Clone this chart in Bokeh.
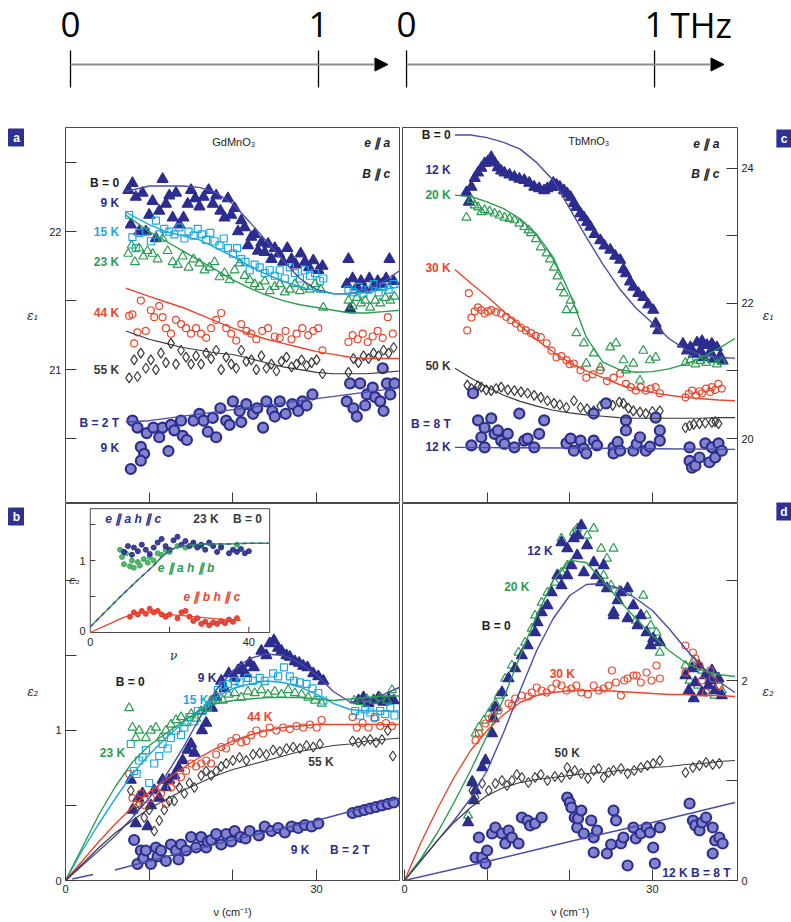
from bokeh.plotting import figure
from bokeh.layouts import row, column
from bokeh.models import Range1d, FixedTicker, Label, Arrow, NormalHead
from bokeh.core.properties import value
from bokeh.embed import file_html
from bokeh.resources import INLINE

# ---------------- frequency scale bars (THz) ----------------
thz_ticks = [0, 1]
thz_tick_labels = ["0", "1"]
thz_arrow_end = 1.28
thz_bar_origins = [0.0, 1.355]   # left bar and right bar, in THz units of the strip

# ---------------- (a) GdMnO3, eps1 ----------------
a_9K = [(7.5,22.30),(7.8,22.05),(8.0,22.35),(8.4,22.25),(8.8,22.0),(9.2,22.28),(9.6,22.0),(10.0,22.12),
        (10.4,22.22),(10.8,21.95),(11.2,22.15),(11.6,22.38),(12.0,22.2),(12.4,22.26),(12.8,22.1),(13.2,22.28),
        (13.6,22.05),(14.1,22.1),(14.6,22.2),(15.0,22.3),(15.5,22.24),(16.0,22.18),(16.5,22.25),(17.1,22.3),
        (17.6,22.2),(18.0,22.26),(18.5,22.15),(19.0,22.1),(19.4,22.24),(19.8,22.12),(20.2,22.17),(20.6,22.0),
        (21.0,22.08),(21.4,22.03),(21.8,21.9),(22.2,21.96),(22.6,21.98),(23.0,21.86),(23.4,21.92),(23.8,21.85),
        (24.2,21.91),(24.6,21.8),(25.0,21.88),(25.5,21.84),(26.0,21.78),(26.5,21.88),(27.0,21.8),(27.5,21.76),
        (28.1,21.84),(28.6,21.78),(29.1,21.74),(29.6,21.79),(30.2,21.72),(30.7,21.75),
        (33.6,21.62),(33.8,21.8),(34.0,21.44),(34.3,21.66),(34.8,21.6),(35.3,21.64),(35.8,21.58),(36.3,21.66),
        (36.8,21.6),(37.3,21.64),(37.8,21.62),(38.3,21.66),(38.7,21.8),(39.2,21.64)]
a_15K = [(7.6,22.12),(8.0,21.96),(8.4,21.88),(8.8,21.99),(9.6,22.0),(10.2,21.93),(10.8,22.08),(11.2,21.98),
         (11.8,22.02),(12.4,22.0),(13.0,21.98),(13.6,22.03),(14.2,21.95),(14.7,22.0),(15.3,21.97),(15.8,22.02),
         (16.3,21.98),(16.8,21.94),(17.3,21.99),(17.8,21.93),(18.4,21.9),(18.9,21.95),(19.4,21.88),(20.0,21.84),
         (20.5,21.88),(21.0,21.8),(21.5,21.78),(22.0,21.72),(22.6,21.76),(23.2,21.74),(23.8,21.7),(24.4,21.72),
         (25.0,21.68),(25.6,21.72),(26.2,21.66),(26.8,21.74),(27.4,21.7),(28.0,21.66),(28.6,21.72),(29.2,21.68),
         (29.8,21.7),(30.4,21.64),(30.8,21.66),
         (33.8,21.58),(34.4,21.56),(35.0,21.6),(35.6,21.55),(36.2,21.58),(36.8,21.62),(37.4,21.56),(38.0,21.6),
         (38.6,21.58),(39.2,21.62)]
a_23K = [(7.5,21.84),(7.9,21.9),(8.3,21.78),(8.8,21.88),(9.3,21.82),(9.8,21.86),(10.4,21.84),(11.0,21.8),
         (11.6,21.95),(12.2,21.86),(12.8,21.78),(13.4,21.76),(14.0,21.82),(14.7,21.74),(15.3,21.8),(16.0,21.77),
         (16.6,21.72),(17.2,21.74),(17.8,21.78),(18.4,21.67),(19.0,21.7),(19.6,21.65),(20.2,21.72),(20.8,21.77),
         (21.4,21.68),(22.0,21.65),(22.6,21.62),(23.2,21.6),(23.8,21.64),(24.4,21.57),(25.0,21.6),(25.6,21.62),
         (26.2,21.56),(26.8,21.58),(27.4,21.62),(28.0,21.57),(28.6,21.6),(29.2,21.58),(29.8,21.62),(30.5,21.58),
         (30.8,21.45),
         (33.8,21.5),(34.3,21.46),(34.8,21.52),(35.3,21.48),(35.8,21.5),(36.4,21.45),(37.0,21.5),(37.6,21.48),
         (38.2,21.52),(38.8,21.5),(39.3,21.53)]
a_44K = [(7.6,21.39),(8.0,21.4),(8.2,21.19),(8.6,21.27),(9.0,21.5),(9.6,21.28),(10.2,21.43),(10.6,21.38),
         (11.2,21.46),(11.6,21.38),(12.0,21.3),(12.6,21.26),(13.2,21.36),(13.8,21.33),(14.4,21.3),(15.0,21.26),
         (15.6,21.3),(16.2,21.26),(16.8,21.23),(17.4,21.3),(18.0,21.36),(18.6,21.41),(19.2,21.3),(19.8,21.26),
         (20.4,21.21),(21.0,21.33),(21.6,21.28),(22.2,21.26),(22.8,21.22),(23.5,21.28),(24.2,21.3),(25.0,21.24),
         (25.6,21.23),(26.3,21.28),(27.0,21.22),(27.6,21.26),(28.3,21.3),(29.0,21.25),(29.6,21.28),(30.2,21.3),
         (30.7,21.14),
         (33.8,21.2),(34.3,21.25),(34.9,21.22),(35.5,21.26),(36.1,21.2),(36.7,21.24),(37.3,21.28),(37.9,21.23),
         (38.5,21.38),(39.1,21.26)]
a_55K = [(7.6,20.94),(8.2,21.07),(8.6,20.95),(9.0,21.12),(9.6,21.01),(10.2,21.07),(10.8,21.0),(11.4,21.12),
         (12.0,21.05),(12.6,21.19),(13.2,21.04),(13.8,21.14),(14.4,21.09),(15.0,21.04),(15.6,21.1),(16.2,21.04),
         (16.8,21.12),(17.4,21.08),(18.0,21.14),(18.6,21.0),(19.2,21.09),(19.8,21.04),(20.4,21.01),(21.0,21.14),
         (21.6,21.06),(22.2,21.07),(22.8,21.0),(23.4,21.1),(24.0,21.01),(24.6,21.04),(25.2,20.99),(25.8,21.06),
         (26.4,21.09),(27.0,21.02),(27.6,21.04),(28.2,21.07),(28.8,21.03),(29.4,21.05),(30.0,21.07),(30.7,20.97),
         (33.8,20.98),(34.4,21.08),(35.0,21.05),(35.6,21.1),(36.2,21.08),(36.8,21.12),(37.4,21.1),(38.0,21.14),
         (38.6,21.12),(39.2,21.16)]
a_2T = [(7.8,20.28),(8.0,20.63),(8.6,20.58),(9.0,20.44),(9.4,20.39),(9.0,20.34),(9.7,20.54),(10.5,20.58),
        (11.2,20.51),(11.6,20.58),(12.3,20.41),(12.6,20.6),(13.0,20.56),(13.8,20.63),(14.0,20.52),(14.5,20.49),
        (15.3,20.63),(16.0,20.68),(16.5,20.63),(17.0,20.55),(17.6,20.65),(18.0,20.51),(18.5,20.72),(19.2,20.63),
        (19.6,20.6),(20.0,20.77),(20.8,20.7),(21.0,20.62),(21.6,20.75),(22.4,20.68),(22.9,20.72),(23.6,20.58),
        (24.0,20.77),(24.7,20.7),(25.0,20.66),(25.6,20.77),(26.3,20.68),(27.1,20.75),(27.8,20.7),(28.3,20.77),
        (28.8,20.74),(29.5,20.82),
        (33.6,20.77),(34.0,20.9),(34.4,20.72),(34.8,20.66),(35.2,20.9),(35.8,20.74),(36.0,20.82),(36.7,20.87),
        (37.0,20.8),(37.6,20.77),(37.9,21.01),(38.0,20.7),(38.4,20.9),(38.8,20.82),(39.3,20.9)]
a_fit_v = [7.2, 10, 12, 14, 16, 18, 20, 22, 24, 26, 28, 30, 32, 34, 36, 38, 40]
a_fit_9K = [22.29, 22.33, 22.33, 22.33, 22.32, 22.28, 22.2, 22.07, 21.93, 21.79, 21.66, 21.58, 21.55, 21.55, 21.58, 21.64, 21.72]
a_fit_15K = [22.14, 22.05, 22.0, 21.97, 21.94, 21.88, 21.82, 21.75, 21.69, 21.64, 21.6, 21.57, 21.55, 21.55, 21.56, 21.58, 21.6]
a_fit_23K = [22.12, 22.0, 21.93, 21.86, 21.79, 21.72, 21.65, 21.59, 21.54, 21.5, 21.47, 21.45, 21.43, 21.41, 21.41, 21.42, 21.43]
a_fit_44K = [21.59, 21.53, 21.49, 21.45, 21.4, 21.35, 21.3, 21.26, 21.22, 21.19, 21.16, 21.13, 21.11, 21.09, 21.08, 21.08, 21.08]
a_fit_55K = [21.28, 21.22, 21.19, 21.16, 21.14, 21.12, 21.11, 21.08, 21.05, 21.02, 21.0, 20.98, 20.97, 20.97, 20.97, 20.98, 20.99]
a_fit_2T_v = [7.2, 10, 15, 20, 25, 30, 35, 40]
a_fit_2T = [20.62, 20.63, 20.67, 20.71, 20.75, 20.79, 20.83, 20.87]

# ---------------- (b) GdMnO3, eps2 ----------------
b_9K = [(7.8,0.67),(8.0,0.47),(8.4,0.38),(8.7,0.55),(9.2,0.58),(9.8,0.36),(10.2,0.5),(10.6,0.6),(11.2,0.55),
        (11.6,0.67),(12.0,0.62),(12.4,0.67),(13.0,0.7),(13.5,0.75),(14.0,0.8),(14.6,0.87),(15.0,0.91),(15.4,0.85),
        (16.3,1.0),(16.8,1.05),(17.5,1.15),(18.0,1.22),(18.6,1.33),(19.0,1.28),(19.5,1.38),(20.2,1.35),(20.6,1.4),
        (21.0,1.42),(21.5,1.38),(22.0,1.45),(22.5,1.42),(23.4,1.53),(24.0,1.5),(24.4,1.58),(24.9,1.6),(25.4,1.55),
        (25.8,1.53),(26.4,1.5),(26.8,1.49),(27.4,1.46),(27.9,1.45),(28.4,1.43),(28.9,1.42),(29.6,1.38),(30.2,1.36),
        (30.8,1.33),
        (35.0,1.2),(35.6,1.22),(36.2,1.18),(36.8,1.2),(37.4,1.22),(38.0,1.19),(38.6,1.21),(39.2,1.2)]
b_15K = [(7.8,0.91),(8.2,0.73),(8.5,0.71),(8.8,0.8),(9.2,0.82),(9.6,0.87),(10.0,0.65),(10.6,0.78),(11.2,0.83),
         (11.6,0.91),(12.2,0.88),(12.6,0.95),(13.2,1.0),(13.8,0.97),(14.2,1.02),(14.8,1.09),(15.4,1.06),(15.8,1.13),
         (16.4,1.13),(17.0,1.15),(17.6,1.2),(18.2,1.27),(18.8,1.3),(19.4,1.31),(20.2,1.33),(20.8,1.32),(21.8,1.35),
         (22.4,1.33),(23.2,1.35),(23.8,1.33),(24.8,1.38),(25.4,1.36),(26.1,1.42),(26.8,1.36),(27.3,1.33),(28.0,1.32),
         (28.8,1.31),(29.5,1.28),(30.2,1.25),(30.8,1.2),
         (34.6,1.13),(35.2,1.1),(35.8,1.14),(36.4,1.12),(37.0,1.09),(37.6,1.13),(38.2,1.11),(38.8,1.15),(39.3,1.1)]
b_23K = [(7.6,1.15),(8.0,1.02),(8.4,0.95),(8.8,1.0),(9.6,0.95),(10.2,1.0),(10.8,1.02),(11.4,0.95),(12.0,1.0),
         (12.6,1.04),(13.2,1.07),(13.8,1.09),(14.4,1.05),(15.0,1.11),(15.6,1.08),(16.2,1.13),(16.8,1.15),(17.4,1.2),
         (18.0,1.22),(18.8,1.2),(19.5,1.24),(20.2,1.25),(21.0,1.22),(21.8,1.26),(22.6,1.25),(23.4,1.27),(24.2,1.24),
         (25.0,1.26),(25.8,1.24),(26.6,1.27),(27.4,1.25),(28.2,1.24),(29.0,1.22),(29.8,1.2),(30.6,1.18),
         (34.5,1.2),(35.2,1.19),(36.0,1.21),(36.8,1.2),(37.6,1.22),(38.4,1.2),(39.0,1.27)]
b_44K = [(7.6,0.71),(8.0,0.55),(8.5,0.51),(9.0,0.58),(9.5,0.5),(10.2,0.55),(10.8,0.6),(11.4,0.58),(12.0,0.51),
         (12.6,0.62),(13.2,0.65),(13.8,0.69),(14.4,0.73),(15.0,0.78),(15.6,0.76),(16.2,0.78),(16.8,0.8),(17.4,0.78),
         (18.0,0.84),(18.6,0.89),(19.2,0.88),(19.8,0.93),(20.4,0.95),(21.0,0.92),(21.6,0.93),(22.2,0.97),(22.8,1.0),
         (23.6,0.98),(24.4,1.02),(25.2,1.0),(26.0,1.02),(26.8,1.01),(27.6,1.03),(28.4,1.02),(29.2,1.04),(30.0,1.02),
         (30.6,1.07),
         (34.3,1.09),(34.8,1.02),(35.5,1.05),(36.2,1.02),(36.9,1.08),(37.6,1.03),(38.3,1.05),(39.0,1.03)]
b_55K = [(7.8,0.6),(8.2,0.47),(8.8,0.51),(9.4,0.42),(10.0,0.47),(10.6,0.33),(11.2,0.4),(11.8,0.47),(12.4,0.53),
         (13.0,0.53),(13.6,0.62),(14.2,0.58),(14.8,0.65),(15.4,0.62),(16.2,0.7),(16.8,0.73),(17.4,0.7),(18.0,0.73),
         (18.6,0.76),(19.2,0.78),(20.0,0.8),(20.8,0.82),(21.6,0.8),(22.4,0.84),(23.2,0.85),(24.0,0.84),(24.8,0.87),
         (25.6,0.86),(26.4,0.88),(27.2,0.89),(28.0,0.88),(28.8,0.9),(29.6,0.89),(30.4,0.91),
         (34.3,0.93),(35.0,0.92),(35.7,0.93),(36.4,0.94),(37.1,0.92),(37.8,0.94),(38.5,1.0),(39.1,0.83)]
b_2T = [(8.2,0.27),(8.6,0.11),(9.0,0.2),(9.3,0.15),(9.6,0.2),(10.2,0.11),(10.8,0.22),(11.0,0.16),(11.4,0.2),
        (12.0,0.13),(12.6,0.24),(13.2,0.2),(13.5,0.14),(13.8,0.24),(14.4,0.2),(15.0,0.29),(15.6,0.22),(16.2,0.29),
        (16.8,0.22),(17.0,0.26),(17.4,0.27),(18.0,0.31),(18.6,0.24),(19.2,0.31),(19.8,0.26),(20.2,0.33),(20.9,0.29),
        (21.5,0.28),(22.0,0.33),(23.1,0.3),(23.8,0.36),(24.6,0.33),(25.4,0.35),(26.2,0.32),(27.0,0.36),(27.8,0.35),
        (28.6,0.37),(29.4,0.36),(30.2,0.38),
        (34.3,0.45),(35.0,0.46),(35.7,0.47),(36.4,0.48),(37.1,0.49),(37.8,0.5),(38.5,0.51),(39.2,0.52)]
b_fit_v = [0, 2, 4, 6, 8, 10, 12, 14, 16, 18, 20, 22, 24, 26, 28, 30, 32, 34, 36, 38, 40]
b_fit_9K = [0, 0.1, 0.2, 0.3, 0.42, 0.55, 0.7, 0.88, 1.08, 1.27, 1.4, 1.48, 1.51, 1.5, 1.45, 1.37, 1.26, 1.19, 1.2, 1.24, 1.29]
b_fit_15K = [0, 0.2, 0.38, 0.55, 0.71, 0.84, 0.95, 1.05, 1.14, 1.22, 1.28, 1.31, 1.33, 1.32, 1.29, 1.24, 1.18, 1.14, 1.13, 1.13, 1.13]
b_fit_23K = [0, 0.22, 0.44, 0.63, 0.79, 0.9, 0.98, 1.06, 1.13, 1.18, 1.2, 1.21, 1.22, 1.22, 1.22, 1.21, 1.2, 1.21, 1.22, 1.23, 1.23]
b_fit_44K = [0, 0.13, 0.26, 0.38, 0.49, 0.59, 0.67, 0.75, 0.82, 0.88, 0.93, 0.97, 1.0, 1.02, 1.03, 1.04, 1.04, 1.04, 1.04, 1.04, 1.04]
b_fit_55K = [0, 0.11, 0.22, 0.32, 0.4, 0.48, 0.54, 0.6, 0.65, 0.7, 0.74, 0.77, 0.8, 0.83, 0.86, 0.88, 0.9, 0.91, 0.93, 0.94, 0.95]
# the 2 T fit is drawn in two pieces (short stub near the origin, then the main run)
b_fit_2T_v = [0.8, 3.3, float("nan"), 5.9, 10, 20, 30, 40]
b_fit_2T = [0.01, 0.04, float("nan"), 0.07, 0.13, 0.27, 0.4, 0.55]

# inset of (b): 23 K, B = 0, three polarisations
ins_ac = [(8.5,1.12),(9.5,1.2),(10.5,1.08),(11,1.18),(12,1.13),(13,1.22),(14,1.15),(15,1.09),(16,1.18),(17,1.25),
          (18,1.3),(19,1.2),(20,1.15),(21,1.28),(22,1.33),(23,1.22),(24,1.27),(25,1.2),(26,1.25),(27,1.18),
          (28,1.22),(29,1.15),(30,1.25),(31,1.2),(32,1.12),(33,1.18),(35,1.1),(36,1.15),(37,1.12),(38,1.16),
          (39,1.1),(40,1.13)]
ins_ab = [(7.5,1.15),(8,1.05),(8.5,0.95),(9,1.1),(10,0.92),(10.5,1.0),(11,0.9),(12,0.98),(12.5,0.93),(13.5,1.02),
          (14.5,0.97),(15,1.05),(16,1.0),(17,1.1),(18,1.08),(19,1.15),(20,1.12),(22,1.2),(24,1.18),(26,1.22),
          (28,1.2),(30,1.24),(33,1.2),(37,1.22)]
ins_bc = [(10,0.22),(11,0.28),(12,0.25),(13,0.3),(14,0.26),(15,0.33),(16,0.28),(17,0.3),(18,0.25),(19,0.22),
          (20,0.25),(22,0.2),(23,0.28),(24,0.3),(25,0.22),(26,0.16),(27,0.2),(28,0.12),(29,0.15),(30,0.1),
          (31,0.14),(32,0.12),(33,0.16),(34,0.13),(35,0.18),(36,0.15),(37,0.2)]
ins_fit_v = [0, 4, 8, 12, 16, 18, 20, 22, 26, 30, 35, 40, 45]
ins_fit_a = [0.08, 0.3, 0.52, 0.73, 0.93, 1.05, 1.14, 1.19, 1.22, 1.23, 1.23, 1.24, 1.24]
ins_fit_b_v = [0, 4, 8, 12, 16, 20, 24, 28, 32, 36, 38]
ins_fit_b = [0.0, 0.1, 0.2, 0.28, 0.28, 0.25, 0.23, 0.21, 0.19, 0.17, 0.17]

# ---------------- (c) TbMnO3, eps1 ----------------
c_12K = [(7.5,23.64),(7.8,23.5),(8.1,23.72),(8.5,23.85),(8.9,23.93),(9.3,24.0),(9.7,24.07),(10.1,24.1),(10.5,24.16),
         (10.9,24.08),(11.3,24.01),(11.7,23.96),(12.1,23.93),(12.7,23.9),(13.3,23.87),(13.9,23.84),(14.5,23.82),
         (15.1,23.78),(15.7,23.72),(16.3,23.7),(16.9,23.67),(17.3,23.7),(17.7,23.72),(18.0,23.78),(18.4,23.75),
         (18.8,23.72),(19.3,23.67),(19.7,23.62),(20.1,23.57),(20.5,23.48),(20.8,23.42),(21.3,23.33),(21.7,23.27),
         (22.1,23.2),(22.5,23.13),(23.0,23.02),(23.7,22.93),(24.2,22.85),(24.9,22.79),(25.5,22.7),(26.1,22.64),
         (26.5,22.5),(26.8,22.44),(27.3,22.32),(27.7,22.24),(28.3,22.15),(28.9,22.09),(29.5,21.98),(30.1,21.9),
         (30.4,21.7),(30.7,21.6),
         (33.7,21.4),(34.2,21.3),(34.6,21.35),(35.0,21.25),(35.4,21.42),(35.8,21.3),(36.0,21.44),(36.2,21.2),
         (36.6,21.38),(37.0,21.28),(37.2,21.4),(37.4,21.18),(37.8,21.35),(38.2,21.22),(38.5,21.15)]
c_20K = [(7.5,23.27),(8.1,23.53),(8.5,23.45),(8.9,23.42),(9.3,23.35),(9.7,23.38),(10.3,23.36),(10.9,23.33),
         (11.5,23.3),(12.1,23.27),(12.7,23.25),(13.3,23.23),(13.9,23.18),(14.5,23.13),(15.0,23.08),(15.3,23.04),
         (15.9,22.95),(16.5,22.83),(17.2,22.74),(17.6,22.65),(18.1,22.53),(18.5,22.4),(18.9,22.24),(19.3,22.15),
         (19.6,21.9),(20.1,22.04),(20.5,21.9),(20.8,21.56),(21.7,21.41),(22.0,21.11),(22.9,21.26),(23.7,21.05),
         (24.9,21.35),(25.6,21.41),(26.5,21.16),(26.8,21.01),(27.7,21.11),(28.5,20.86),(28.9,21.3),(29.7,21.16),
         (30.4,21.2),
         (34.0,21.12),(34.6,21.16),(35.2,21.1),(35.8,21.15),(36.5,21.12),(37.2,21.16),(37.8,21.1),(38.4,21.14)]
c_30K = [(7.6,21.6),(7.8,22.15),(8.1,21.79),(8.5,21.88),(8.9,21.94),(9.3,21.9),(9.7,21.85),(10.1,21.88),
         (10.5,21.9),(11.1,21.87),(11.7,21.85),(12.3,21.8),(12.9,21.75),(13.5,21.7),(14.1,21.64),(14.7,21.6),
         (15.3,21.56),(15.9,21.52),(16.5,21.5),(17.2,21.41),(17.8,21.3),(18.4,21.2),(19.0,21.22),(19.6,21.16),
         (20.0,21.1),(20.5,21.11),(21.3,21.01),(22.0,20.9),(22.8,20.95),(23.7,21.01),(24.5,20.85),(25.3,20.9),
         (26.1,20.96),(26.8,20.81),(27.4,20.76),(28.0,20.71),(28.6,20.76),(29.2,20.71),(29.8,20.74),(30.4,20.76),
         (30.9,20.67),
         (34.0,20.61),(34.4,20.66),(34.8,20.71),(35.3,20.64),(35.7,20.7),(36.0,20.67),(36.5,20.74),(37.0,20.69),
         (37.2,20.76),(37.6,20.72),(38.0,20.81),(38.4,20.74)]
c_50K = [(7.6,20.79),(8.1,20.74),(8.5,20.71),(8.9,20.78),(9.3,20.76),(9.9,20.72),(10.5,20.71),(11.1,20.74),
         (11.7,20.76),(12.5,20.72),(13.3,20.71),(14.1,20.69),(14.9,20.67),(15.7,20.64),(16.5,20.61),(17.3,20.56),
         (18.1,20.52),(18.8,20.5),(19.6,20.46),(20.5,20.56),(21.3,20.46),(22.1,20.44),(22.9,20.41),(23.7,20.48),
         (24.4,20.52),(25.2,20.49),(26.0,20.54),(26.5,20.52),(27.1,20.45),(27.7,20.41),(28.5,20.39),(29.2,20.37),
         (30.0,20.4),(30.9,20.41),
         (34.0,20.16),(34.5,20.19),(35.0,20.21),(35.7,20.22),(36.4,20.23),(37.2,20.24),(37.6,20.25),(38.0,20.22)]
c_8T = [(8.3,20.67),(8.1,19.9),(8.9,20.27),(9.3,20.02),(9.7,20.16),(9.7,19.87),(10.5,20.3),(10.9,20.07),
        (11.3,20.12),(11.7,19.97),(12.1,19.92),(12.5,20.07),(13.3,19.87),(13.9,20.37),(14.5,19.97),(14.9,20.0),
        (15.7,19.87),(16.3,20.07),(16.9,20.27),(19.6,19.93),(20.1,20.0),(20.5,19.82),(21.3,19.97),(21.7,19.85),
        (22.0,19.78),(22.9,20.37),(22.9,19.97),(23.3,19.9),(24.4,20.52),(25.3,19.87),(25.3,19.78),(25.8,19.95),
        (26.1,19.82),(26.8,20.27),(26.8,20.12),(27.7,19.82),(28.1,19.92),(28.5,20.02),(29.2,19.82),(29.7,19.88),
        (30.4,20.31),(30.9,20.12),(30.9,19.97),
        (34.5,19.87),(34.5,19.67),(34.8,19.57),(35.2,19.6),(35.7,19.72),(36.4,19.93),(36.9,19.65),(37.2,19.87),
        (37.6,19.72),(38.0,19.93),(38.4,19.82)]
c_fit_v = [6.1, 8, 10, 12, 14, 16, 18, 20, 22, 24, 26, 28, 30, 32, 34, 36, 38, 40]
c_fit_12K = [24.49, 24.49, 24.45, 24.38, 24.28, 24.08, 23.82, 23.4, 22.98, 22.58, 22.22, 21.93, 21.71, 21.48, 21.32, 21.23, 21.2, 21.19]
c_fit_20K = [23.6, 23.58, 23.5, 23.4, 23.25, 23.02, 22.68, 22.15, 21.5, 21.13, 21.02, 20.98, 20.99, 21.03, 21.1, 21.2, 21.33, 21.48]
c_fit_30K = [22.5, 22.3, 22.1, 21.88, 21.67, 21.46, 21.28, 21.12, 21.0, 20.9, 20.8, 20.73, 20.68, 20.64, 20.61, 20.59, 20.57, 20.56]
c_fit_50K = [21.04, 20.9, 20.76, 20.64, 20.55, 20.48, 20.42, 20.38, 20.35, 20.33, 20.31, 20.3, 20.3, 20.3, 20.3, 20.3, 20.31, 20.31]
c_fit_8T_v = [6.1, 20, 30, 40]
c_fit_8T = [19.87, 19.86, 19.85, 19.84]

# ---------------- (d) TbMnO3, eps2 ----------------
d_12K = [(7.7,0.58),(8.2,0.98),(8.4,0.8),(8.6,0.9),(9.4,1.13),(9.8,1.2),(10.6,1.47),(10.8,1.62),(11.0,1.73),
         (11.8,1.88),(12.6,2.02),(13.4,2.12),(14.2,2.25),(14.9,2.35),(15.8,2.48),(16.1,2.58),(16.6,2.68),(17.3,2.75),
         (17.8,2.88),(18.5,3.05),(19.0,2.95),(19.7,3.05),(19.0,3.38),(19.7,3.32),(20.2,3.15),(20.5,3.42),(20.9,3.25),
         (21.0,3.45),(21.4,3.55),(21.7,3.08),(22.1,3.35),(22.9,3.18),(23.2,3.05),(23.8,2.98),(24.1,3.15),(24.5,2.92),
         (25.3,2.68),(25.3,2.65),(25.8,2.8),(26.2,2.88),(27.0,2.92),(27.0,2.62),(27.7,2.75),(28.2,2.55),(28.6,2.65),
         (29.3,2.48),(29.8,2.35),(30.1,2.42),(30.9,2.38),
         (34.0,2.05),(34.4,1.9),(34.8,2.12),(35.0,1.82),(35.2,1.98),(35.6,2.15),(36.0,1.88),(36.4,2.05),(36.8,1.95),
         (37.0,2.0),(37.2,2.1),(37.6,1.9),(38.0,2.02),(38.4,1.85)]
d_20K = [(7.7,0.65),(8.2,1.0),(8.6,1.47),(9.0,1.53),(9.6,1.6),(10.2,1.67),(10.6,1.72),(11.0,1.77),(11.4,1.85),
         (12.2,2.02),(13.0,2.15),(13.8,2.28),(14.6,2.38),(15.4,2.52),(15.8,2.65),(16.6,2.78),(17.3,2.88),(18.2,2.98),
         (19.0,3.08),(19.7,3.15),(19.0,3.42),(20.5,3.48),(20.9,3.52),(22.1,3.45),(22.9,3.52),(23.8,3.32),(24.5,3.22),
         (25.3,3.32),(24.1,3.05),(25.0,2.95),(26.0,2.9),(27.0,2.88),(28.0,2.6),(28.9,2.85),(29.3,2.65),(29.8,2.55),
         (30.5,2.48),(30.9,2.28),
         (34.0,2.15),(34.5,2.0),(35.0,2.2),(35.5,1.95),(36.0,2.1),(36.5,1.9),(37.0,2.05),(37.5,1.85),(38.0,2.0),
         (38.4,1.9)]
d_30K = [(8.6,1.4),(9.0,1.47),(9.8,1.57),(10.6,1.63),(11.4,1.7),(12.6,1.77),(13.0,1.75),(13.4,1.82),(14.2,1.85),
         (15.0,1.84),(15.4,1.88),(16.0,1.93),(16.6,1.9),(17.2,1.88),(17.8,1.92),(18.4,1.97),(19.0,1.95),(19.6,1.9),
         (20.2,1.92),(20.8,1.95),(21.4,1.88),(22.2,1.86),(22.9,1.95),(23.5,1.9),(24.1,1.92),(24.7,1.95),(25.1,2.1),
         (25.6,1.98),(26.2,1.85),(26.6,2.0),(27.0,2.02),(27.7,2.05),(28.1,2.05),(28.6,1.98),(29.3,2.08),(29.9,2.0),
         (30.5,2.15),(30.9,2.02),
         (34.0,2.35),(34.0,2.08),(34.9,2.28),(35.2,2.22),(35.7,2.15),(36.0,2.0),(36.5,1.88),(37.0,2.1),(37.3,2.02),
         (38.1,1.95)]
d_50K = [(8.2,0.9),(8.6,0.83),(9.4,0.97),(10.2,0.9),(11.0,0.97),(11.8,1.0),(12.4,0.95),(13.0,1.0),(13.6,1.06),
         (14.2,1.03),(15.0,0.98),(15.8,1.03),(16.5,1.06),(17.3,1.0),(18.2,1.04),(19.0,1.03),(19.7,1.13),(20.0,1.06),
         (20.6,1.1),(21.4,1.07),(22.2,1.02),(22.9,1.1),(23.5,1.12),(24.1,1.03),(24.7,1.08),(25.3,1.1),(26.2,1.12),
         (27.0,1.07),(27.8,1.1),(28.6,1.13),(29.4,1.15),(30.1,1.17),(30.9,1.2),
         (34.0,1.08),(34.9,1.13),(35.7,1.15),(36.5,1.18),(37.3,1.16),(38.1,1.17)]
d_8T = [(8.6,0.23),(9.0,0.43),(9.4,0.23),(9.8,0.17),(10.0,0.3),(10.6,0.47),(11.0,0.53),(11.8,0.47),(12.2,0.37),
        (12.6,0.5),(13.0,0.43),(13.8,0.37),(14.2,0.63),(14.9,0.6),(15.2,0.55),(15.8,0.57),(16.6,0.63),(19.7,0.83),
        (20.0,0.78),(20.2,0.73),(20.6,0.63),(20.9,0.53),(21.0,0.62),(21.4,0.7),(21.7,0.47),(22.6,0.6),(22.9,0.43),
        (22.9,0.28),(23.3,0.5),(24.5,0.27),(25.0,0.36),(25.3,0.7),(25.6,0.6),(26.2,0.37),(26.5,0.43),(27.0,0.15),
        (27.7,0.53),(28.0,0.42),(28.6,0.47),(29.3,0.53),(29.7,0.48),(30.1,0.33),(30.3,0.17),(30.9,0.53),
        (34.5,0.77),(34.9,0.6),(35.2,0.55),(35.7,0.5),(36.0,0.58),(36.5,0.63),(37.3,0.53),(37.3,0.27),(37.6,0.4),
        (38.1,0.43),(38.5,0.37)]
d_fit_v = [0, 2, 4, 6, 8, 10, 12, 14, 16, 18, 20, 22, 24, 26, 28, 30, 32, 34, 36, 38, 40]
d_fit_12K = [0, 0.2, 0.4, 0.6, 0.82, 1.1, 1.48, 1.9, 2.3, 2.62, 2.85, 2.96, 2.97, 2.92, 2.82, 2.7, 2.52, 2.32, 2.13, 1.99, 1.88]
d_fit_20K = [0, 0.22, 0.48, 0.78, 1.1, 1.45, 1.82, 2.25, 2.65, 3.0, 3.2, 3.18, 3.0, 2.8, 2.62, 2.45, 2.3, 2.18, 2.1, 2.06, 2.04]
d_fit_30K = [0, 0.38, 0.72, 1.03, 1.3, 1.5, 1.66, 1.78, 1.85, 1.88, 1.9, 1.9, 1.9, 1.89, 1.88, 1.87, 1.86, 1.86, 1.85, 1.85, 1.84]
d_fit_50K = [0, 0.2, 0.4, 0.58, 0.73, 0.85, 0.93, 0.98, 1.01, 1.03, 1.05, 1.07, 1.08, 1.1, 1.11, 1.13, 1.14, 1.16, 1.17, 1.19, 1.2]
d_fit_8T_v = [0, 10, 20, 30, 40]
d_fit_8T = [0, 0.19, 0.39, 0.58, 0.78]

# ---------------- styling ----------------
NAVY = "#2c2d8f"
NAVY_LINE = "#4a4cab"
DISC_FILL = "#8183cc"
CYAN = "#1ba8e2"
GREEN = "#2a9d52"
RED = "#e9472d"
DARK = "#3a3a3a"
BOX = "#2e3192"
FRAME = "#4a4a4a"
FONT = "Liberation Sans Narrow, Liberation Sans, sans-serif"
TICK_FONT = "Liberation Sans"
SERIF = "DejaVu Serif"


def unzip(pts):
    return [q[0] for q in pts], [q[1] for q in pts]


def make_fig(width, height, xr, yr, left, right, top, bottom, y_side="left"):
    p = figure(width=width, height=height, x_range=Range1d(*xr), y_range=Range1d(*yr),
               output_backend="svg", toolbar_location=None, title=None, y_axis_location=y_side,
               min_border_left=left, min_border_right=right, min_border_top=top, min_border_bottom=bottom)
    p.outline_line_color = FRAME
    p.outline_line_width = 1
    p.background_fill_color = "white"
    p.border_fill_color = "white"
    p.xgrid.visible = False
    p.ygrid.visible = False
    return p


def style_axis(ax, major, minor, show_labels=True, standoff=4):
    ax.ticker = FixedTicker(ticks=major, minor_ticks=minor)
    ax.axis_line_color = None
    ax.major_tick_in = 11
    ax.major_tick_out = 0
    ax.minor_tick_in = 11
    ax.minor_tick_out = 0
    ax.major_tick_line_color = DARK
    ax.minor_tick_line_color = DARK
    ax.major_label_text_font = TICK_FONT
    ax.major_label_text_color = "#222222"
    ax.major_label_text_font_size = "11px" if show_labels else "0px"
    ax.major_label_standoff = standoff if show_labels else 0


def eps_label(ax, text, standoff):
    ax.axis_label = text
    ax.axis_label_text_font = SERIF
    ax.axis_label_text_font_style = "italic"
    ax.axis_label_text_font_size = "12px"
    ax.axis_label_text_color = "#222222"
    ax.axis_label_orientation = "horizontal"
    ax.axis_label_standoff = standoff


def nu_label(ax):
    ax.axis_label = "ν (cm⁻¹)"
    ax.axis_label_text_font = TICK_FONT
    ax.axis_label_text_font_size = "11px"
    ax.axis_label_text_font_style = "normal"
    ax.axis_label_text_color = "#222222"
    ax.axis_label_standoff = 10


def points(p, pts, marker, color, fill, size, lw=1.2, **kw):
    xs, ys = unzip(pts)
    p.scatter(xs, ys, marker=marker, size=size, line_color=color, fill_color=fill, line_width=lw, **kw)


def curve(p, xs, ys, color, lw=1.4, **kw):
    p.line(xs, ys, line_color=color, line_width=lw, **kw)


def lab(p, x, y, text, color="#1e1e1e", align="left", size="12px", style="bold", font=FONT, **kw):
    p.add_layout(Label(x=x, y=y, text=text, text_color=color, text_align=align, text_baseline="middle",
                       text_font_size=size, text_font_style=style, text_font=font, **kw))


def disc(p, pts):
    points(p, pts, "circle", NAVY, DISC_FILL, 10, lw=2.2)


def tag_strip(width, tags):
    """Narrow side strip carrying the blue panel tags; y counts pixel rows from its top."""
    p = figure(width=width, height=802, x_range=Range1d(0, width), y_range=Range1d(802, 0),
               output_backend="svg", toolbar_location=None, title=None, x_axis_type=None, y_axis_type=None,
               min_border_left=0, min_border_right=0, min_border_top=0, min_border_bottom=0)
    p.outline_line_color = None
    p.xgrid.visible = False
    p.ygrid.visible = False
    xs = [t[1] for t in tags]
    ys = [t[2] for t in tags]
    p.rect(x=xs, y=ys, width=16, height=17, fill_color=BOX, line_color=BOX)
    p.text(x=xs, y=ys, text=[t[0] for t in tags], text_color="white", text_align="center",
           text_baseline="middle", text_font=value("Liberation Sans"), text_font_style="bold",
           text_font_size="12px")
    return p


# ---------------- frequency bars ----------------
bar = figure(width=791, height=120, x_range=Range1d(-70 / 248, 721 / 248), y_range=Range1d(120, 0),
             output_backend="svg", toolbar_location=None, title=None, x_axis_type=None, y_axis_type=None,
             min_border_left=0, min_border_right=0, min_border_top=0, min_border_bottom=0)
bar.outline_line_color = None
bar.xgrid.visible = False
bar.ygrid.visible = False
for i, origin in enumerate(thz_bar_origins):
    ticks = [origin + t for t in thz_ticks]
    bar.add_layout(Arrow(x_start=origin, y_start=64, x_end=origin + thz_arrow_end, y_end=64,
                         line_color="#8c8c8c", line_width=2,
                         end=NormalHead(size=13, fill_color="black", line_color="black")))
    bar.segment(x0=ticks, y0=[50] * len(ticks), x1=ticks, y1=[87] * len(ticks),
                line_color="black", line_width=1.3)
    for t, s in zip(ticks, thz_tick_labels):
        bar.add_layout(Label(x=t, y=24, text=s, text_align="center", text_baseline="middle",
                             text_font="Open Sans", text_font_size="35px", text_color="black"))
    if i == len(thz_bar_origins) - 1:
        bar.add_layout(Label(x=ticks[-1] + 0.064, y=24, text="THz", text_align="left", text_baseline="middle",
                             text_font="Open Sans", text_font_size="35px", text_color="black"))

# ---------------- panel a ----------------
pa = make_fig(376, 383, (0, 39.9), (20.03, 22.754), 38, 1, 7, 0)
style_axis(pa.xaxis[0], [], [10, 20, 30], show_labels=False)
style_axis(pa.yaxis[0], [21, 22], [20.5, 21.5, 22.5], standoff=4)
eps_label(pa.yaxis[0], "ε₁", 8)
points(pa, a_9K, "triangle", NAVY, NAVY, 11)
points(pa, a_15K, "square", CYAN, None, 7)
points(pa, a_23K, "triangle", GREEN, None, 9)
points(pa, a_44K, "circle", RED, None, 7)
points(pa, a_55K, "diamond", DARK, None, 10)
disc(pa, a_2T)
curve(pa, a_fit_v, a_fit_9K, NAVY_LINE)
curve(pa, a_fit_v, a_fit_15K, CYAN)
curve(pa, a_fit_v, a_fit_23K, GREEN)
curve(pa, a_fit_v, a_fit_44K, RED)
curve(pa, a_fit_v, a_fit_55K, DARK, lw=1.1)
curve(pa, a_fit_2T_v, a_fit_2T, NAVY_LINE)
lab(pa, 20.1, 22.65, "GdMnO₃", align="center", size="11px", style="normal")
lab(pa, 38.8, 22.64, "e ∥ a", align="right", style="bold italic")
lab(pa, 38.8, 22.42, "B ∥ c", align="right", style="bold italic")
lab(pa, 6.4, 22.355, "B = 0", align="right")
lab(pa, 6.4, 22.21, "9 K", NAVY, align="right")
lab(pa, 6.4, 22.0, "15 K", CYAN, align="right")
lab(pa, 6.4, 21.78, "23 K", GREEN, align="right")
lab(pa, 6.4, 21.41, "44 K", RED, align="right")
lab(pa, 6.4, 21.0, "55 K", DARK, align="right")
lab(pa, 6.4, 20.61, "B = 2 T", NAVY, align="right")
lab(pa, 6.4, 20.43, "9 K", NAVY, align="right")

# ---------------- panel b ----------------
pb = make_fig(376, 419, (0, 39.9), (0, 2.513), 38, 1, 0, 42)
pb.extra_x_ranges = {"ins": Range1d(-6.25, 78.0)}
pb.extra_y_ranges = {"ins": Range1d(-3.444, 1.792)}
style_axis(pb.xaxis[0], [0, 30], [10, 20], standoff=4)
style_axis(pb.yaxis[0], [0, 1], [0.5, 1.5, 2.0], standoff=4)
nu_label(pb.xaxis[0])
eps_label(pb.yaxis[0], "ε₂", 14)

# inset frame and content
ins = dict(x_range_name="ins", y_range_name="ins")
pb.quad(left=[0], right=[45.25], bottom=[0], top=[1.72], fill_color="white", line_color=FRAME,
        line_width=1, **ins)
pb.segment(x0=[20, 40], y0=[0, 0], x1=[20, 40], y1=[0.08, 0.08], line_color=DARK, **ins)
pb.segment(x0=[0, 0, 0], y0=[0.5, 1.0, 1.5], x1=[1.3, 1.3, 1.3], y1=[0.5, 1.0, 1.5], line_color=DARK, **ins)
for pts, col in ((ins_ab, "#3fae5a"), (ins_ac, NAVY), (ins_bc, "#e8332a")):
    xs, ys = unzip(pts)
    pb.scatter(xs, ys, marker="circle", size=5, fill_color=col, line_color=col, fill_alpha=0.9, **ins)
pb.line(ins_fit_v, ins_fit_a, line_color=GREEN, line_width=1.5, **ins)
pb.line(ins_fit_v, ins_fit_a, line_color=NAVY_LINE, line_width=1.5, line_dash="4 4", **ins)
pb.line(ins_fit_b_v, ins_fit_b, line_color=RED, line_width=1.3, **ins)
lab(pb, 3.75, 1.57, "e ∥ a   h ∥ c", NAVY, style="bold italic", **ins)
lab(pb, 26.0, 1.57, "23 K", DARK, **ins)
lab(pb, 36.0, 1.57, "B = 0", DARK, **ins)
lab(pb, 17.0, 0.89, "e ∥ a   h ∥ b", GREEN, style="bold italic", **ins)
lab(pb, 23.5, 0.49, "e ∥ b   h ∥ c", RED, style="bold italic", **ins)
lab(pb, 21.0, -0.33, "ν", align="center", size="12px", style="italic", font=SERIF, **ins)
lab(pb, 0, -0.13, "0", align="center", size="11px", style="normal", font=TICK_FONT, **ins)
lab(pb, 40, -0.13, "40", align="center", size="11px", style="normal", font=TICK_FONT, **ins)
lab(pb, -1.2, 0.02, "0", align="right", size="11px", style="normal", font=TICK_FONT, **ins)
lab(pb, -1.2, 1.0, "1", align="right", size="11px", style="normal", font=TICK_FONT, **ins)
lab(pb, -4.0, 0.72, "ε₂", align="center", size="11px", style="italic", font=SERIF, **ins)

points(pb, b_9K, "triangle", NAVY, NAVY, 11)
points(pb, b_15K, "square", CYAN, None, 7)
points(pb, b_23K, "triangle", GREEN, None, 9)
points(pb, b_44K, "circle", RED, None, 7)
points(pb, b_55K, "diamond", DARK, None, 10)
disc(pb, b_2T)
curve(pb, b_fit_v, b_fit_9K, NAVY_LINE)
curve(pb, b_fit_v, b_fit_15K, CYAN)
curve(pb, b_fit_v, b_fit_23K, GREEN)
curve(pb, b_fit_v, b_fit_44K, RED)
curve(pb, b_fit_v, b_fit_55K, DARK, lw=1.1)
curve(pb, b_fit_2T_v, b_fit_2T, NAVY_LINE)
lab(pb, 6.0, 1.32, "B = 0")
lab(pb, 15.8, 1.35, "9 K", NAVY)
lab(pb, 14.05, 1.2, "15 K", CYAN)
lab(pb, 4.1, 0.85, "23 K", GREEN)
lab(pb, 21.7, 1.09, "44 K", RED)
lab(pb, 29.0, 0.79, "55 K", DARK)
lab(pb, 26.9, 0.2, "9 K", NAVY)
lab(pb, 31.6, 0.2, "B = 2 T", NAVY)

# ---------------- panel c ----------------
pc = make_fig(376, 383, (-0.24, 40.3), (19.04, 24.6), 2, 36, 7, 0, y_side="right")
style_axis(pc.xaxis[0], [], [10, 20, 30], show_labels=False)
style_axis(pc.yaxis[0], [20, 22, 24], [21, 23], standoff=4)
eps_label(pc.yaxis[0], "ε₁", 6)
points(pc, c_12K, "triangle", NAVY, NAVY, 11)
points(pc, c_20K, "triangle", GREEN, None, 9)
points(pc, c_30K, "circle", RED, None, 7)
points(pc, c_50K, "diamond", DARK, None, 10)
disc(pc, c_8T)
curve(pc, c_fit_v, c_fit_12K, NAVY_LINE)
curve(pc, c_fit_v, c_fit_20K, GREEN)
curve(pc, c_fit_v, c_fit_30K, RED)
curve(pc, c_fit_v, c_fit_50K, DARK, lw=1.1)
curve(pc, c_fit_8T_v, c_fit_8T, NAVY_LINE)
lab(pc, 5.6, 24.49, "B = 0", align="right")
lab(pc, 22.3, 24.4, "TbMnO₃", align="center", size="11px", style="normal")
lab(pc, 38.1, 24.36, "e ∥ a", align="right", style="bold italic")
lab(pc, 38.1, 23.91, "B ∥ c", align="right", style="bold italic")
lab(pc, 5.6, 23.97, "12 K", NAVY, align="right")
lab(pc, 5.6, 23.6, "20 K", GREEN, align="right")
lab(pc, 5.6, 22.52, "30 K", RED, align="right")
lab(pc, 5.6, 21.07, "50 K", DARK, align="right")
lab(pc, 5.6, 20.22, "B = 8 T", NAVY, align="right")
lab(pc, 5.6, 19.88, "12 K", NAVY, align="right")

# ---------------- panel d ----------------
pd = make_fig(376, 419, (-0.24, 40.3), (0, 3.77), 2, 36, 0, 42, y_side="right")
style_axis(pd.xaxis[0], [0, 30], [10, 20], standoff=4)
style_axis(pd.yaxis[0], [0, 2], [1, 3], standoff=4)
nu_label(pd.xaxis[0])
eps_label(pd.yaxis[0], "ε₂", 12)
points(pd, d_20K, "triangle", GREEN, None, 9)
points(pd, d_12K, "triangle", NAVY, NAVY, 11)
points(pd, d_30K, "circle", RED, None, 7)
points(pd, d_50K, "diamond", DARK, None, 10)
disc(pd, d_8T)
curve(pd, d_fit_v, d_fit_12K, NAVY_LINE)
curve(pd, d_fit_v, d_fit_20K, GREEN)
curve(pd, d_fit_v, d_fit_30K, RED)
curve(pd, d_fit_v, d_fit_50K, DARK, lw=1.1)
curve(pd, d_fit_8T_v, d_fit_8T, NAVY_LINE)
lab(pd, 16.4, 3.3, "12 K", NAVY, align="center")
lab(pd, 13.6, 2.94, "20 K", GREEN, align="center")
lab(pd, 11.1, 2.55, "B = 0", align="center")
lab(pd, 19.1, 2.07, "30 K", RED, align="center")
lab(pd, 19.7, 1.28, "50 K", DARK, align="center")
lab(pd, 31.2, 0.08, "12 K   B = 8 T", NAVY)

# ---------------- panel tags ----------------
strip_l = tag_strip(24, [("a", 16, 17), ("b", 16, 396)])
strip_r = tag_strip(15, [("c", 7.5, 18), ("d", 7.5, 391)])

layout = column(bar, row(strip_l, column(pa, pb), column(pc, pd), strip_r))

open("out.html", "w").write(file_html(layout, INLINE, "GdMnO3 and TbMnO3 permittivity"))
